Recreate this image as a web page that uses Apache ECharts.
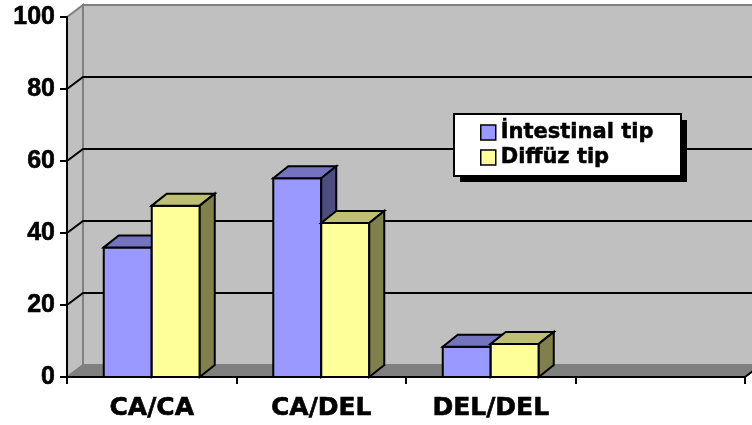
<!DOCTYPE html>
<html>
<head>
<meta charset="utf-8">
<script src="https://cdn.jsdelivr.net/npm/echarts@6/dist/echarts.min.js"></script>
<style>
  html, body { margin: 0; padding: 0; background: #fff; }
  #chart { width: 752px; height: 425px; }
</style>
</head>
<body>
<div id="chart"></div>
<script>
// Genotype groups (the fourth slot is left empty on the axis)
const categories = ['CA/CA', 'CA/DEL', 'DEL/DEL', ''];
// Percentages per genotype
const intestinalValues = [36, 55.2, 8.4];
const diffuzValues = [47.6, 42.8, 9.2];
const seriesNames = ['İntestinal tip', 'Diffüz tip'];
const gridValues = [20, 40, 60, 80];

// Colours: front face, top face, side face
const intestinalColors = { front: '#9999FF', top: '#7373BF', side: '#4D4D80' };
const diffuzColors = { front: '#FFFF99', top: '#BFBF73', side: '#80804D' };

// Pseudo-3D depth of the walls and of the bars
const WALL_DX = 16, WALL_DY = 12;
const BAR_DX = 15, BAR_DY = 12;
const BAR_W = 48;

// Legend frame with a hard drop shadow
const LEGEND_BOX = { x: 454, y: 114, w: 227, h: 62, shadow: 6 };

const chart = echarts.init(document.getElementById('chart'));

function barRenderer(side, colors) {
  return function (params, api) {
    const idx = api.value(0);
    const top = api.coord([idx, api.value(1)]);
    const base = api.coord([idx, 0]);
    const x0 = side === 0 ? top[0] - BAR_W : top[0];
    const x1 = x0 + BAR_W;
    const yT = top[1], yB = base[1];
    const edge = { stroke: '#000', lineWidth: 2, lineJoin: 'miter' };
    return {
      type: 'group',
      children: [
        { type: 'polygon', shape: { points: [[x0, yT], [x1, yT], [x1, yB], [x0, yB]] },
          style: Object.assign({ fill: colors.front }, edge) },
        { type: 'polygon', shape: { points: [[x0, yT], [x0 + BAR_DX, yT - BAR_DY], [x1 + BAR_DX, yT - BAR_DY], [x1, yT]] },
          style: Object.assign({ fill: colors.top }, edge) },
        { type: 'polygon', shape: { points: [[x1, yT], [x1 + BAR_DX, yT - BAR_DY], [x1 + BAR_DX, yB - BAR_DY], [x1, yB]] },
          style: Object.assign({ fill: colors.side }, edge) }
      ]
    };
  };
}

function wallRenderer(params, api) {
  const cs = params.coordSys;
  const L = cs.x, R = cs.x + cs.width, T = cs.y, B = cs.y + cs.height;
  const dx = WALL_DX, dy = WALL_DY;
  const children = [
    // back wall
    { type: 'polygon', shape: { points: [[L + dx, T - dy], [R + dx, T - dy], [R + dx, B - dy], [L + dx, B - dy]] },
      style: { fill: '#C0C0C0', stroke: '#808080', lineWidth: 2 } },
    // left side wall
    { type: 'polygon', shape: { points: [[L, T], [L + dx, T - dy], [L + dx, B - dy], [L, B]] },
      style: { fill: '#C0C0C0', stroke: '#808080', lineWidth: 2 } },
    // floor
    { type: 'polygon', shape: { points: [[L, B], [R, B], [R + dx, B - dy], [L + dx, B - dy]] },
      style: { fill: '#808080', stroke: '#808080', lineWidth: 1 } },
    { type: 'line', shape: { x1: R, y1: B, x2: R + dx, y2: B - dy },
      style: { stroke: '#000', lineWidth: 2 } }
  ];
  gridValues.forEach(function (v) {
    const y = api.coord([0, v])[1];
    children.push({ type: 'polyline', shape: { points: [[L, y], [L + dx, y - dy], [R + dx, y - dy]] },
      style: { stroke: '#000', lineWidth: 2, fill: null } });
  });
  return { type: 'group', children: children };
}

const heavyText = { textBorderColor: '#000', textBorderWidth: 0.6 };

chart.setOption({
  animation: false,
  backgroundColor: '#fff',
  grid: { left: 67, right: 7, top: 17, bottom: 48, containLabel: false },
  xAxis: {
    type: 'category',
    data: categories,
    boundaryGap: true,
    axisLine: { show: true, lineStyle: { color: '#000', width: 2 } },
    axisTick: { show: true, length: 7, lineStyle: { color: '#000', width: 2 } },
    axisLabel: Object.assign({ color: '#000', fontFamily: 'DejaVu Sans', fontWeight: 'bold', fontSize: 25, margin: 19 }, heavyText),
    splitLine: { show: false }
  },
  yAxis: {
    type: 'value',
    min: 0, max: 100, interval: 20,
    axisLine: { show: true, lineStyle: { color: '#000', width: 2 } },
    axisTick: { show: true, length: 7, lineStyle: { color: '#000', width: 2 } },
    axisLabel: Object.assign({ color: '#000', fontFamily: 'Liberation Sans, Arial', fontWeight: 'bold', fontSize: 25, margin: 12 }, heavyText),
    splitLine: { show: false }
  },
  graphic: [
    { type: 'rect', z: 3, silent: true,
      shape: { x: LEGEND_BOX.x + LEGEND_BOX.shadow, y: LEGEND_BOX.y + LEGEND_BOX.shadow, width: LEGEND_BOX.w, height: LEGEND_BOX.h },
      style: { fill: '#000' } },
    { type: 'rect', z: 3, silent: true,
      shape: { x: LEGEND_BOX.x, y: LEGEND_BOX.y, width: LEGEND_BOX.w, height: LEGEND_BOX.h },
      style: { fill: '#fff', stroke: '#000', lineWidth: 2 } }
  ],
  legend: {
    orient: 'vertical',
    left: LEGEND_BOX.x, top: LEGEND_BOX.y,
    z: 10,
    selectedMode: false,
    data: [
      { name: seriesNames[0], icon: 'rect', itemStyle: { color: intestinalColors.front, borderColor: '#000', borderWidth: 1.5 } },
      { name: seriesNames[1], icon: 'rect', itemStyle: { color: diffuzColors.front, borderColor: '#000', borderWidth: 1.5 } }
    ],
    itemWidth: 15, itemHeight: 15, itemGap: 2,
    padding: [7, 26, 9, 26],
    textStyle: Object.assign({ fontFamily: 'DejaVu Sans', fontWeight: 'bold', fontSize: 21, color: '#000', lineHeight: 23 }, { textBorderColor: '#000', textBorderWidth: 0.5 })
  },
  series: [
    {
      type: 'custom', name: 'walls', z: -1, silent: true,
      renderItem: wallRenderer,
      data: [[0, 0]]
    },
    {
      type: 'custom', name: seriesNames[0], z: 2,
      itemStyle: { color: intestinalColors.front },
      renderItem: barRenderer(0, intestinalColors),
      data: intestinalValues.map(function (v, i) { return [i, v]; })
    },
    {
      type: 'custom', name: seriesNames[1], z: 3,
      itemStyle: { color: diffuzColors.front },
      renderItem: barRenderer(1, diffuzColors),
      data: diffuzValues.map(function (v, i) { return [i, v]; })
    }
  ]
});
</script>
</body>
</html>
